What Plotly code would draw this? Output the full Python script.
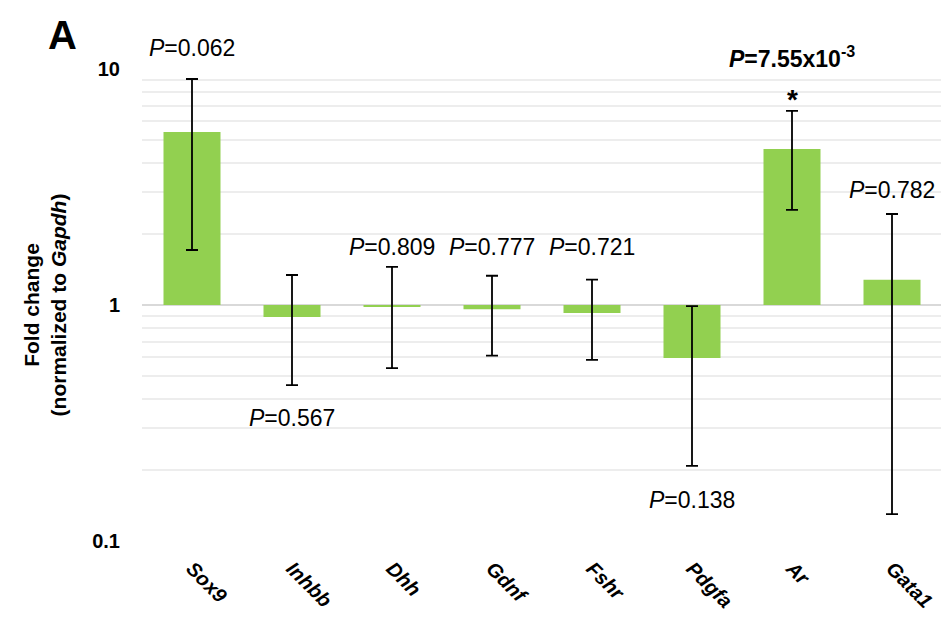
import plotly.graph_objects as go
import math

genes = ["Sox9", "Inhbb", "Dhh", "Gdnf", "Fshr", "Pdgfa", "Ar", "Gata1"]
fold_change = [5.41, 0.89, 0.99, 0.96, 0.925, 0.596, 4.58, 1.28]
err_upper = [9.07, 1.34, 1.45, 1.33, 1.28, 0.99, 6.64, 2.43]
err_lower = [1.71, 0.458, 0.54, 0.61, 0.585, 0.208, 2.53, 0.13]
p_labels = ["<i>P</i>=0.062", "<i>P</i>=0.567", "<i>P</i>=0.809", "<i>P</i>=0.777",
            "<i>P</i>=0.721", "<i>P</i>=0.138", "<b><i>P</i>=7.55x10<sup>-3</sup></b>", "<i>P</i>=0.782"]
p_label_y = [12.3, 0.332, 1.76, 1.76, 1.76, 0.149, 11.2, 3.07]
star_gene = "Ar"
star_y = 7.4

baseline = 1.0
bar_len = [v - baseline for v in fold_change]
plus = [u - v for u, v in zip(err_upper, fold_change)]
minus = [v - l for v, l in zip(fold_change, err_lower)]

FONT = "Liberation Sans, Arial"

fig = go.Figure()
fig.add_trace(go.Bar(
    x=genes, y=bar_len, base=[baseline] * len(genes),
    marker=dict(color="#92D050", line=dict(width=0)),
    width=0.57, hoverinfo="skip",
))
fig.add_trace(go.Scatter(
    x=genes, y=fold_change, mode="markers",
    marker=dict(size=1, color="rgba(0,0,0,0)"),
    error_y=dict(type="data", symmetric=False, array=plus, arrayminus=minus,
                 color="black", thickness=1.8, width=6),
    hoverinfo="skip",
))

def to_paper(v):
    return (math.log10(v) + 1) / 2

for g, txt, yy in zip(genes, p_labels, p_label_y):
    fig.add_annotation(x=g, xref="x", y=to_paper(yy), yref="paper", text=txt, showarrow=False,
                       font=dict(family=FONT, size=23, color="black"),
                       xanchor="center", yanchor="middle")
fig.add_annotation(x=star_gene, xref="x", y=to_paper(star_y), yref="paper", text="<b>*</b>",
                   showarrow=False, font=dict(family=FONT, size=28, color="black"),
                   xanchor="center", yanchor="middle")
fig.add_annotation(x=-0.099, y=1.072, xref="paper", yref="paper", text="<b>A</b>",
                   showarrow=False, xanchor="center", yanchor="middle",
                   font=dict(family=FONT, size=40, color="black"))

fig.update_layout(
    width=949, height=624,
    paper_bgcolor="white", plot_bgcolor="white",
    showlegend=False,
    margin=dict(l=134, r=15, t=61, b=91),
    font=dict(family=FONT, color="black"),
)
fig.update_xaxes(
    type="category", showgrid=False, showline=False, zeroline=False, automargin=False,
    tickangle=45, ticks="outside", ticklen=7, tickcolor="rgba(0,0,0,0)",
    tickfont=dict(family=FONT, size=20, color="black"),
    tickvals=genes, ticktext=[f"<b><i>{g}</i></b>" for g in genes],
)
fig.update_yaxes(
    type="log", range=[-1, 1], showline=False, zeroline=False, automargin=False,
    tickvals=[0.1, 1, 10], ticktext=["<b>0.1</b>", "<b>1</b>", "<b>10</b>"],
    tickfont=dict(family=FONT, size=20, color="black"),
    showgrid=True, gridcolor="#d9d9d9", gridwidth=1.5,
    minor=dict(showgrid=True, gridcolor="#ededed", gridwidth=1.5,
               tickvals=[0.2, 0.3, 0.4, 0.5, 0.6, 0.7, 0.8, 0.9, 2, 3, 4, 5, 6, 7, 8, 9]),
    ticks="outside", ticklen=17, tickcolor="rgba(0,0,0,0)",
    title=dict(text="<b>Fold change<br>(normalized to <i>Gapdh</i>)</b>",
               font=dict(family=FONT, size=21, color="black"),
               standoff=19),
)

fig.write_html("out.html")
